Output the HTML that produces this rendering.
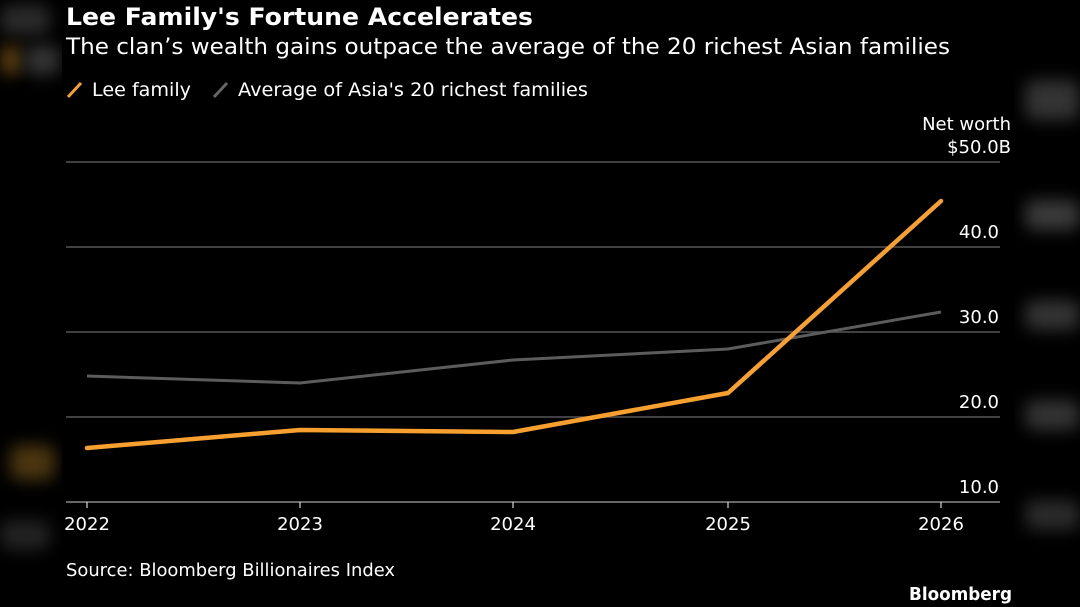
<!DOCTYPE html>
<html><head><meta charset="utf-8"><style>
body{margin:0;width:1080px;height:607px;background:#000;overflow:hidden;position:relative;font-family:"DejaVu Sans","Liberation Sans",sans-serif;color:#fff}
.b{position:absolute;filter:blur(8px);border-radius:10px}
</style></head><body>
<div class="b" style="left:0;top:5px;width:50px;height:30px;background:#2a2a2a"></div>
<div class="b" style="left:0;top:45px;width:22px;height:30px;background:#5a3e10"></div>
<div class="b" style="left:25px;top:45px;width:35px;height:30px;background:#333"></div>
<div class="b" style="left:10px;top:445px;width:45px;height:35px;background:#4a3510"></div>
<div class="b" style="left:0;top:520px;width:50px;height:30px;background:#222"></div>
<div class="b" style="left:1025px;top:80px;width:55px;height:40px;background:#333"></div>
<div class="b" style="left:1025px;top:200px;width:55px;height:30px;background:#3a3a3a"></div>
<div class="b" style="left:1025px;top:300px;width:55px;height:30px;background:#333"></div>
<div class="b" style="left:1025px;top:400px;width:55px;height:30px;background:#333"></div>
<div class="b" style="left:1025px;top:500px;width:55px;height:30px;background:#2a2a2a"></div>
<svg width="1080" height="607" style="position:absolute;left:0;top:0" font-family="DejaVu Sans, Liberation Sans, sans-serif">
<rect x="62" y="0" width="952" height="607" fill="#000"/>
<text x="66" y="25" font-size="24" font-weight="bold" fill="#fff" textLength="467" lengthAdjust="spacingAndGlyphs">Lee Family's Fortune Accelerates</text>
<text x="66" y="54" font-size="22" fill="#fff" textLength="884" lengthAdjust="spacingAndGlyphs">The clan’s wealth gains outpace the average of the 20 richest Asian families</text>
<line x1="68" y1="97" x2="81" y2="83" stroke="#f7a030" stroke-width="3"/>
<text x="92" y="96" font-size="19" fill="#fff" textLength="99" lengthAdjust="spacingAndGlyphs">Lee family</text>
<line x1="214" y1="97" x2="227" y2="83" stroke="#666" stroke-width="3"/>
<text x="238" y="96" font-size="19" fill="#fff" textLength="350" lengthAdjust="spacingAndGlyphs">Average of Asia's 20 richest families</text>
<g stroke="#555" stroke-width="1.5">
<line x1="66" y1="162" x2="1000" y2="162"/><line x1="66" y1="247" x2="1000" y2="247"/>
<line x1="66" y1="332" x2="1000" y2="332"/><line x1="66" y1="417" x2="1000" y2="417"/>
</g>
<line x1="66" y1="502" x2="1000" y2="502" stroke="#888" stroke-width="1.5"/>
<g font-size="18" fill="#fff" text-anchor="end">
<text x="1011" y="130">Net worth</text><text x="1011" y="153">$50.0B</text>
<text x="999" y="238">40.0</text><text x="999" y="323">30.0</text>
<text x="999" y="408">20.0</text><text x="999" y="493">10.0</text>
</g>
<g stroke="#fff" stroke-width="1"><line x1="87" y1="502" x2="87" y2="508"/><line x1="300" y1="502" x2="300" y2="508"/><line x1="513" y1="502" x2="513" y2="508"/><line x1="728" y1="502" x2="728" y2="508"/><line x1="941" y1="502" x2="941" y2="508"/></g>
<g font-size="18" fill="#fff" text-anchor="middle">
<text x="87" y="530">2022</text><text x="300" y="530">2023</text><text x="513" y="530">2024</text><text x="728" y="530">2025</text><text x="941" y="530">2026</text>
</g>
<polyline points="87,376 300,383 513,360 728,349 941,312" fill="none" stroke="#5c5c5c" stroke-width="3"/>
<polyline points="87,448 300,430 513,432 728,393 941,201" fill="none" stroke="#f7a030" stroke-width="4.5" stroke-linejoin="round" stroke-linecap="round"/>
<text x="66" y="576" font-size="18" fill="#fff" textLength="329" lengthAdjust="spacingAndGlyphs">Source: Bloomberg Billionaires Index</text>
<text x="1012" y="600" font-size="18" font-weight="bold" fill="#fff" text-anchor="end" textLength="103" lengthAdjust="spacingAndGlyphs">Bloomberg</text>
</svg>
</body></html>
